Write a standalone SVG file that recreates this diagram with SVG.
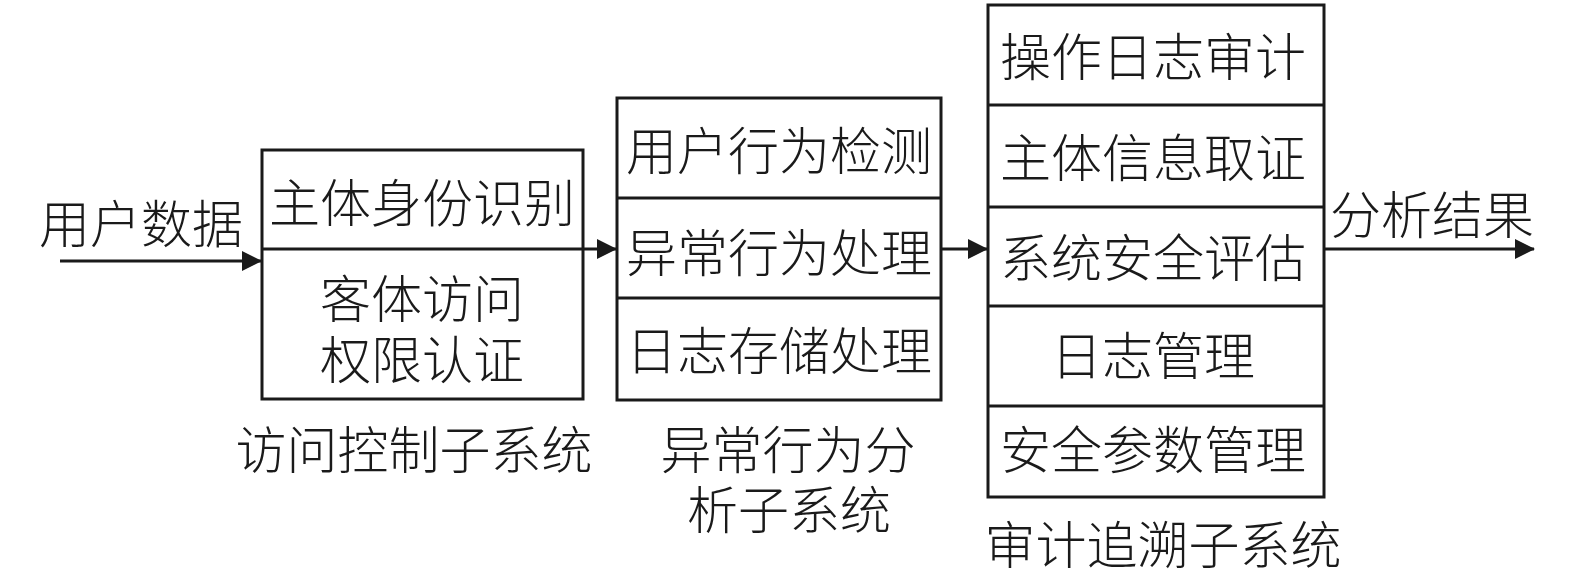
<svg xmlns="http://www.w3.org/2000/svg" width="1575" height="573" viewBox="0 0 1575 573">
<style>
.box{fill:#fff;stroke:#1a1a1a;stroke-width:3}
.div{stroke:#1a1a1a;stroke-width:3}
.con{stroke:#1a1a1a;stroke-width:3;fill:none}
text{font-family:"Noto Sans CJK SC","Noto Sans CJK JP",sans-serif;font-size:51px;fill:#1a1a1a;text-anchor:middle;dominant-baseline:central;font-weight:300}
</style>
<defs>
<marker id="ah" markerUnits="userSpaceOnUse" markerWidth="20" markerHeight="20" refX="19" refY="10" orient="auto" viewBox="0 0 20 20">
<path d="M0,0 L20,10 L0,20 Z" fill="#1a1a1a"/>
</marker>
</defs>
<rect width="1575" height="573" fill="#fff"/>
<g id="connectors">
<line class="con" x1="60" y1="261" x2="261" y2="261" marker-end="url(#ah)"/>
<line class="con" x1="583" y1="249" x2="616" y2="249" marker-end="url(#ah)"/>
<line class="con" x1="941" y1="249" x2="987" y2="249" marker-end="url(#ah)"/>
<line class="con" x1="1324" y1="249" x2="1534" y2="249" marker-end="url(#ah)"/>
</g>
<g id="input-label"><text x="141" y="221">用户数据</text></g>
<g id="access-control">
<rect class="box" x="262" y="150" width="321" height="249"/>
<line class="div" x1="262" y1="249" x2="583" y2="249"/>
<text x="422" y="200">主体身份识别</text>
<text x="422" y="296">客体访问</text>
<text x="422" y="357">权限认证</text>
<text x="414" y="447">访问控制子系统</text>
</g>
<g id="anomaly">
<rect class="box" x="617" y="98" width="324" height="302"/>
<line class="div" x1="617" y1="198" x2="941" y2="198"/>
<line class="div" x1="617" y1="298" x2="941" y2="298"/>
<text x="779" y="148">用户行为检测</text>
<text x="779" y="250">异常行为处理</text>
<text x="779" y="348">日志存储处理</text>
<text x="788" y="447">异常行为分</text>
<text x="789" y="507">析子系统</text>
</g>
<g id="audit">
<rect class="box" x="988" y="5" width="336" height="492"/>
<line class="div" x1="988" y1="105" x2="1324" y2="105"/>
<line class="div" x1="988" y1="207" x2="1324" y2="207"/>
<line class="div" x1="988" y1="306" x2="1324" y2="306"/>
<line class="div" x1="988" y1="406" x2="1324" y2="406"/>
<text x="1153" y="54">操作日志审计</text>
<text x="1153" y="155">主体信息取证</text>
<text x="1153" y="255">系统安全评估</text>
<text x="1153" y="353">日志管理</text>
<text x="1153" y="447">安全参数管理</text>
<text x="1163" y="542">审计追溯子系统</text>
</g>
<g id="output-label"><text x="1432" y="212">分析结果</text></g>
</svg>
